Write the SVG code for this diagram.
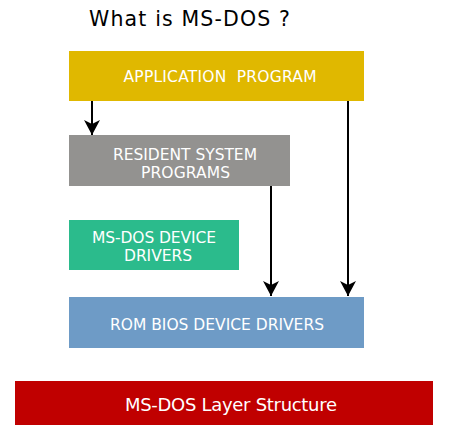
<svg xmlns="http://www.w3.org/2000/svg" width="473" height="440" viewBox="0 0 473 440">
<style>
.t{font-family:"DejaVu Sans","Liberation Sans",sans-serif;fill:#fff;text-anchor:middle;font-size:15.5px}
.c{stroke:#000;stroke-width:2;fill:none}
</style>
<defs>
<marker id="ah" markerUnits="userSpaceOnUse" markerWidth="16" markerHeight="16" viewBox="0 0 16 16" refX="15" refY="8" orient="auto">
<path d="M0,0 L15,8 L0,16 L4,8 Z" fill="#000"/>
</marker>
</defs>
<rect width="473" height="440" fill="#fff"/>
<text x="89" y="26" font-family="DejaVu Sans, sans-serif" font-size="20.5" fill="#000" textLength="201" lengthAdjust="spacing">What is MS-DOS ?</text>
<g id="app">
<rect x="69" y="51" width="295" height="50" fill="#E0B800"/>
<text class="t" x="220" y="81.5" textLength="193" lengthAdjust="spacing" xml:space="preserve" style="white-space:pre">APPLICATION  PROGRAM</text>
</g>
<g id="resident">
<rect x="69" y="135" width="221" height="51" fill="#939290"/>
<text class="t" x="185" y="159.5" textLength="144" lengthAdjust="spacing">RESIDENT SYSTEM</text>
<text class="t" x="185.5" y="177.5" textLength="89" lengthAdjust="spacing">PROGRAMS</text>
</g>
<g id="msdos">
<rect x="69" y="220" width="170" height="50" fill="#2BBB8C"/>
<text class="t" x="154" y="242.5" textLength="124" lengthAdjust="spacing">MS-DOS DEVICE</text>
<text class="t" x="158" y="260.5" textLength="68" lengthAdjust="spacing">DRIVERS</text>
</g>
<g id="rombios">
<rect x="69" y="297" width="295" height="51" fill="#6E9BC6"/>
<text class="t" x="217" y="329.5" textLength="214" lengthAdjust="spacing">ROM BIOS DEVICE DRIVERS</text>
</g>
<g id="footer">
<rect x="15" y="381" width="418" height="44" fill="#C00000"/>
<text class="t" x="231" y="411" textLength="212" lengthAdjust="spacing" style="font-size:18px">MS-DOS Layer Structure</text>
</g>
<g id="connectors">
<line class="c" x1="92" y1="101" x2="92" y2="135" marker-end="url(#ah)"/>
<line class="c" x1="271" y1="186" x2="271" y2="296" marker-end="url(#ah)"/>
<line class="c" x1="348" y1="101" x2="348" y2="296" marker-end="url(#ah)"/>
</g>
</svg>
